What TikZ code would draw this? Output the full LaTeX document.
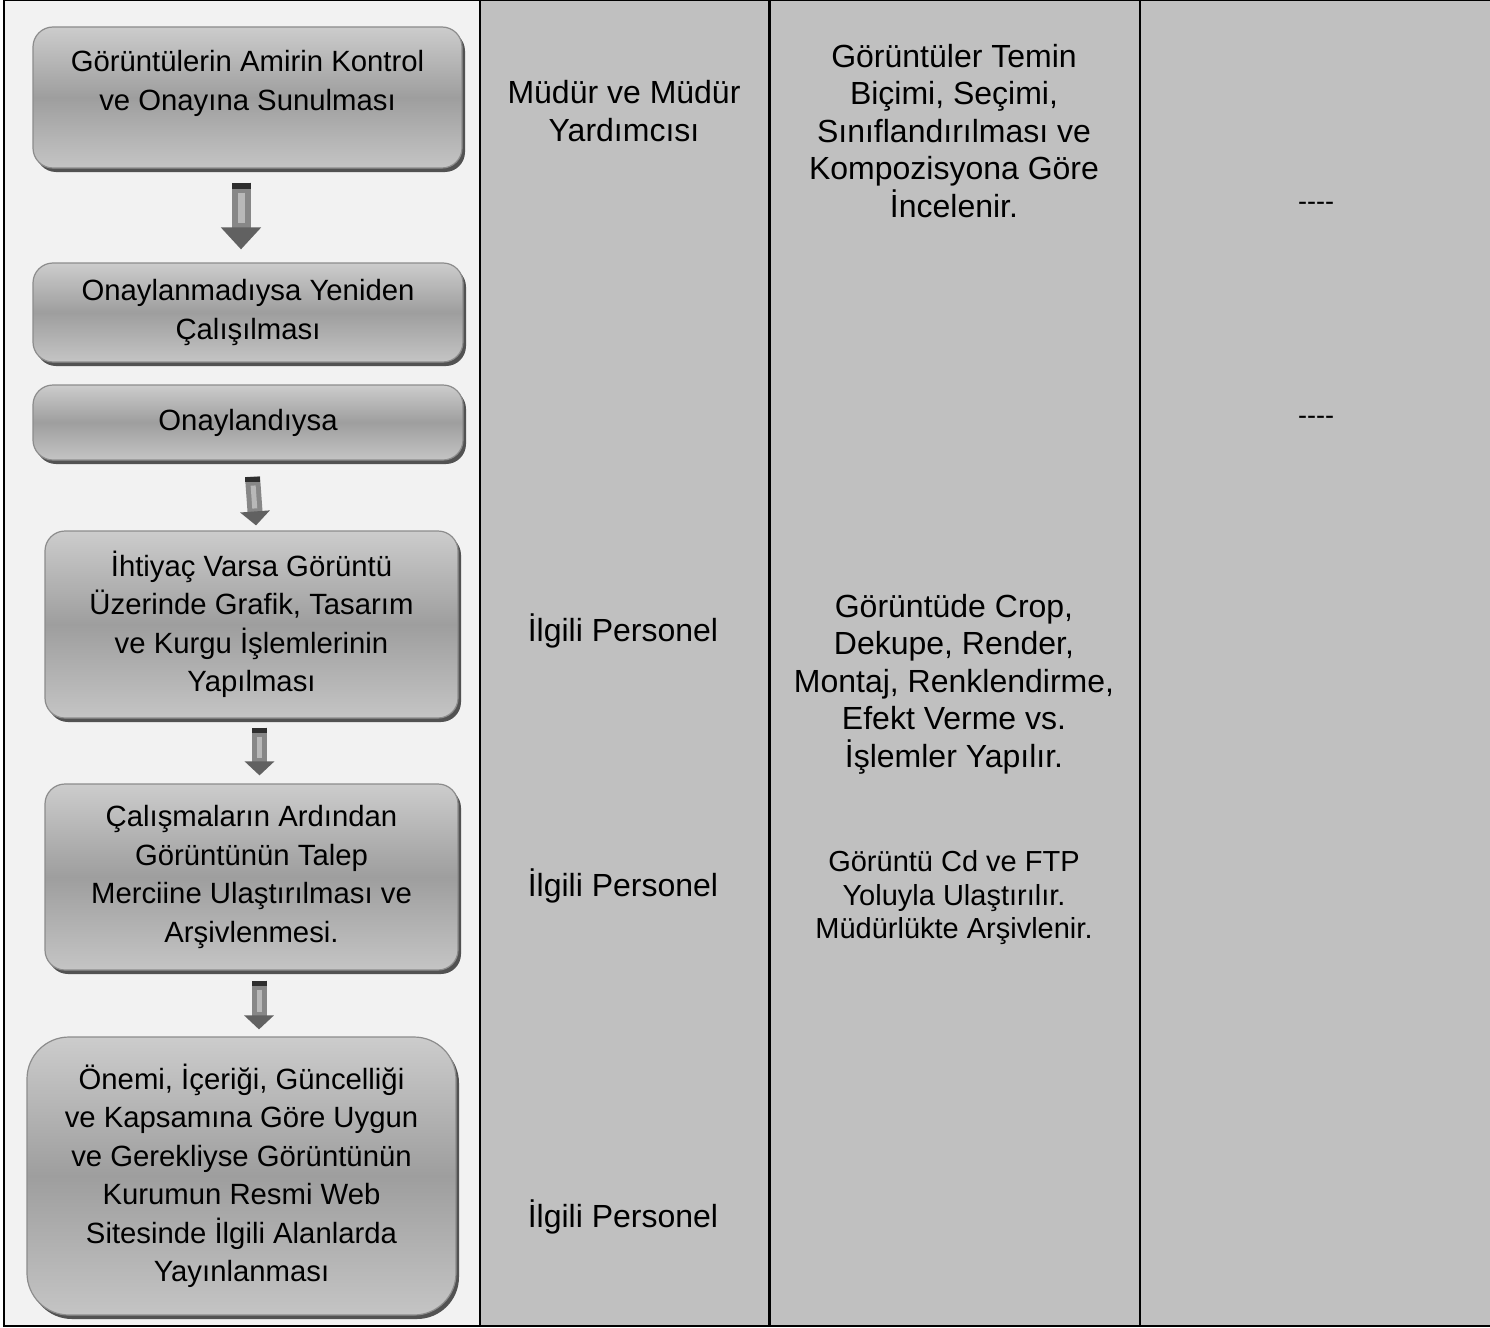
\documentclass[tikz,border=0pt]{standalone}
\usepackage{fontspec}
\setmainfont{Liberation Sans}
\usetikzlibrary{shadows,arrows.meta,calc}
\definecolor{lightbg}{HTML}{F2F2F2}
\definecolor{silverbg}{HTML}{C0C0C0}
\tikzset{
  flowbox/.style={draw=black!45, line width=1.2pt, rounded corners=20pt,
    top color=black!20, bottom color=black!23, middle color=black!38,
    align=center, inner sep=0pt,
    general shadow={fill=black!68, shadow xshift=3pt, shadow yshift=-4pt},
    font=\fontsize{29.3}{38.5}\selectfont},
  coltext/.style={align=center, inner sep=0pt, font=\fontsize{32}{37.5}\selectfont},
  smalltext/.style={align=center, inner sep=0pt, font=\fontsize{29}{33.5}\selectfont},
  dashtext/.style={inner sep=0pt, font=\fontsize{27}{30}\selectfont},
  gridline/.style={line width=2.2pt, black},
  bigarrow/.style={line width=19pt, black!47, -{Triangle[width=39pt,length=22pt,fill=black!62,color=black!62]}},
  smallarrow/.style={line width=15pt, black!47, -{Triangle[width=29pt,length=14pt,fill=black!62,color=black!62]}},
  arrowcap/.style={line width=#1, black!82},
  arrowcore/.style={line width=#1, black!28},
}
\begin{document}
\begin{tikzpicture}[x=1pt,y=-1pt]
\useasboundingbox (0,0) rectangle (1490,1327);
% backgrounds
\fill[lightbg] (5,0) rectangle (480,1326);
\fill[silverbg] (480,0) rectangle (1490,1326);
% grid lines
\draw[line width=1.5pt] (4,0.75) -- (1490,0.75);
\draw[gridline] (1490,1325.9) -- (4,1325.9) -- (4,0);
\draw[gridline] (480,0) -- (480,1327);
\draw[gridline] (769.5,0) -- (769.5,1327);
\draw[gridline] (1140,0) -- (1140,1327);

% flow boxes
\node[flowbox, minimum width=429pt, minimum height=141pt] (b1) at (247.5,97.5)
  {Görüntülerin Amirin Kontrol\\ve Onayına Sunulması\\[-4pt]~};
\node[flowbox, minimum width=430pt, minimum height=99pt] (b2) at (248,312.5)
  {Onaylanmadıysa Yeniden\\Çalışılması};
\node[flowbox, minimum width=430pt, minimum height=75pt] (b3) at (248,422.5)
  {Onaylandıysa};
\node[flowbox, minimum width=413pt, minimum height=187pt] (b4) at (251.5,624.5)
  {İhtiyaç Varsa Görüntü\\Üzerinde Grafik, Tasarım\\ve Kurgu İşlemlerinin\\Yapılması};
\node[flowbox, minimum width=413pt, minimum height=186pt] (b5) at (251.5,877)
  {Çalışmaların Ardından\\Görüntünün Talep\\Merciine Ulaştırılması ve\\Arşivlenmesi.};
\node[flowbox, rounded corners=42pt, minimum width=429pt, minimum height=278pt] (b6) at (241.5,1176)
  {Önemi, İçeriği, Güncelliği\\ve Kapsamına Göre Uygun\\ve Gerekliyse Görüntünün\\Kurumun Resmi Web\\Sitesinde İlgili Alanlarda\\Yayınlanması};

% arrows
\coordinate (a1s) at ([xshift=-6.5pt,yshift=-14pt]b1.south);
\coordinate (a1e) at ([xshift=-7pt,yshift=13pt]b2.north);
\coordinate (a2s) at ([xshift=4.5pt,yshift=-16pt]b3.south);
\coordinate (a2e) at ([xshift=4.5pt,yshift=5pt]b4.north);
\coordinate (a3s) at ([xshift=8pt,yshift=-9pt]b4.south);
\coordinate (a3e) at ([xshift=8pt,yshift=8pt]b5.north);
\coordinate (a4s) at ([xshift=7.5pt,yshift=-10pt]b5.south);
\coordinate (a4e) at ([xshift=17.5pt,yshift=7pt]b6.north);

\draw[bigarrow] (a1s) -- (a1e);
\draw[arrowcore=7pt, shorten <=10pt, shorten >=26pt] (a1s) -- (a1e);
\draw[arrowcap=19pt] (a1s) -- ++(0,-6pt);

\draw[smallarrow] (a2s) -- (a2e);
\draw[arrowcore=5pt, shorten <=9pt, shorten >=17pt] (a2s) -- (a2e);
\draw[arrowcap=15pt] (a2s) -- ++(0,-5pt);

\draw[smallarrow] (a3s) -- (a3e);
\draw[arrowcore=5pt, shorten <=9pt, shorten >=17pt] (a3s) -- (a3e);
\draw[arrowcap=15pt] (a3s) -- ++(0,-5pt);

\draw[smallarrow] (a4s) -- (a4e);
\draw[arrowcore=5pt, shorten <=9pt, shorten >=17pt] (a4s) -- (a4e);
\draw[arrowcap=15pt] (a4s) -- ++(0,-5pt);

% column 2
\node[coltext] (r1) at (624,111) {Müdür ve Müdür\\Yardımcısı};
\node[coltext] (r2) at (623,631) {İlgili Personel};
\node[coltext] (r3) at (623,886) {İlgili Personel};
\node[coltext] (r4) at (623,1217) {İlgili Personel};

% column 3
\node[coltext] (d1) at (954,131) {Görüntüler Temin\\Biçimi, Seçimi,\\Sınıflandırılması ve\\Kompozisyona Göre\\İncelenir.};
\node[coltext] (d2) at (954,684) {Görüntüde Crop,\\Dekupe, Render,\\Montaj, Renklendirme,\\Efekt Verme vs.\\İşlemler Yapılır.};
\node[smalltext] (d3) at (954,898) {Görüntü Cd ve FTP\\Yoluyla Ulaştırılır.\\Müdürlükte Arşivlenir.};

% column 4
\node[dashtext] (n1) at (1316,206) {-{}-{}-{}-};
\node[dashtext] (n2) at (1316,420) {-{}-{}-{}-};
\end{tikzpicture}
\end{document}
